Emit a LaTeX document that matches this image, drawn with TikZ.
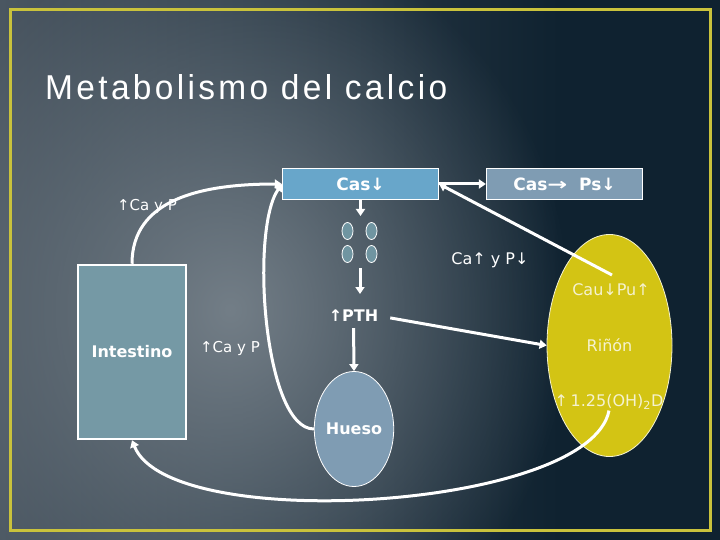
\documentclass[tikz,border=0pt]{standalone}
\usepackage{fontspec}
\setmainfont{DejaVu Sans}
\newfontfamily\titlefont[LetterSpace=10]{Liberation Sans}
\usepackage{graphicx}
\usetikzlibrary{arrows.meta,fadings,shapes.geometric,calc}
\definecolor{bgnavy}{HTML}{0F2230}
\definecolor{bgleft}{HTML}{4A5661}
\definecolor{bgglow}{HTML}{737E87}
\definecolor{frameyel}{HTML}{C9C23C}
\definecolor{boxblue}{HTML}{68A6CA}
\definecolor{boxgray}{HTML}{7F9CB3}
\definecolor{intfill}{HTML}{7599A5}
\definecolor{ovfill}{HTML}{7095A1}
\definecolor{kidney}{HTML}{D3C414}
\definecolor{kidtext}{HTML}{F5F2CF}
\tikzfading[name=glowfade, inner color=transparent!0, outer color=transparent!100]
\begin{document}
\begin{tikzpicture}[x=1pt,y=-1pt,
  conn/.style={draw=white, line width=3pt, -{Triangle[width=9pt,length=7pt]}},
  boxnode/.style={draw=white, line width=1.2pt, minimum width=156pt, minimum height=31pt, text=white, font=\fontsize{17}{20}\selectfont\bfseries, inner sep=0pt},
  lab/.style={text=white, font=\fontsize{15}{18}\selectfont, inner sep=1pt},
  kidlab/.style={text=kidtext, font=\fontsize{16}{19}\selectfont, inner sep=1pt},
  ov/.style={ellipse, draw=white, line width=0.8pt, fill=ovfill, minimum width=11pt, minimum height=17pt, inner sep=0pt},
  bold16/.style={text=white, font=\fontsize{16}{19}\selectfont\bfseries}
]
\useasboundingbox (0,0) rectangle (720,540);
% background
\fill[bgnavy] (0,0) rectangle (720,540);
\shade[left color=bgleft, right color=bgnavy] (0,0) rectangle (560,540);
\fill[bgglow, path fading=glowfade] (230,310) ellipse (340 and 380);
% frame
\draw[frameyel, line width=3pt] (10,10) rectangle (710,530);
% title
\node[anchor=base west, inner sep=0pt, text=white] (title) at (45,100)
  {\resizebox{402pt}{25pt}{\titlefont\fontsize{35}{40}\selectfont Metabolismo del calcio}};
% boxes
\node[boxnode, fill=boxblue] (cas1) at (360.5,184) {Cas↓};
\node[boxnode, fill=boxgray] (cas2) at (564.5,184) {Cas\scalebox{1.4}[1]{→}\ \ Ps↓};
\node[draw=white, line width=2.5pt, fill=intfill, minimum width=108pt, minimum height=174pt, bold16] (intest) at (132,352) {Intestino};
\node[ellipse, draw=white, line width=0.8pt, fill=boxgray, minimum width=72pt, minimum height=115pt, inner sep=0pt, bold16] (hueso) at (354,429) {Hueso};
\node[ellipse, draw=kidtext, line width=0.8pt, fill=kidney, minimum width=125pt, minimum height=222pt, inner sep=0pt, kidlab] (rinon) at (609.5,345.5) {Riñón};
% small ellipses
\node[ov] (e1) at (347.5,231) {};
\node[ov] (e2) at (371.5,231) {};
\node[ov] (e3) at (347.5,254) {};
\node[ov] (e4) at (371.5,254) {};
% labels
\node[bold16, inner sep=1pt] (pth) at (353.5,316) {↑PTH};
\node[lab] (l1) at (147,206) {↑Ca y P};
\node[lab] (l2) at (230,348) {↑Ca y P};
\node[lab, font=\fontsize{16}{19}\selectfont] (l3) at (490,260) {Ca↑ y P↓};
\node[kidlab] (cau) at (611,290) {Cau↓Pu↑};
\node[kidlab] (vitd) at (609,402) {↑\,1.25(OH)\textsubscript{2}D};
% coordinates
\coordinate (ovtop) at (360.5,216);
\coordinate (ovbot) at (360,268);
\coordinate (pthin) at (360,294);
\coordinate (caustart) at (612,275);
% connectors
\draw[conn] (cas1.south) -- (ovtop);
\draw[conn] (ovbot) -- (pthin);
\draw[conn, shorten <=5pt] (pth.south) -- (hueso.north);
\draw[conn, shorten <=11pt] (pth.east) -- (rinon.west);
\draw[conn] (cas1.east) -- (cas2.west);
\draw[conn] (caustart) -- (cas1.east);
\draw[conn] (intest.north) .. controls +(0,-64) and +(-82,0) .. (cas1.west);
\draw[conn] (hueso.west) .. controls +(-50,0) and +(-32,46) .. (cas1.west);
\draw[conn] (vitd.south) .. controls +(-19,99) and +(38,95) .. (intest.south);
\end{tikzpicture}
\end{document}
